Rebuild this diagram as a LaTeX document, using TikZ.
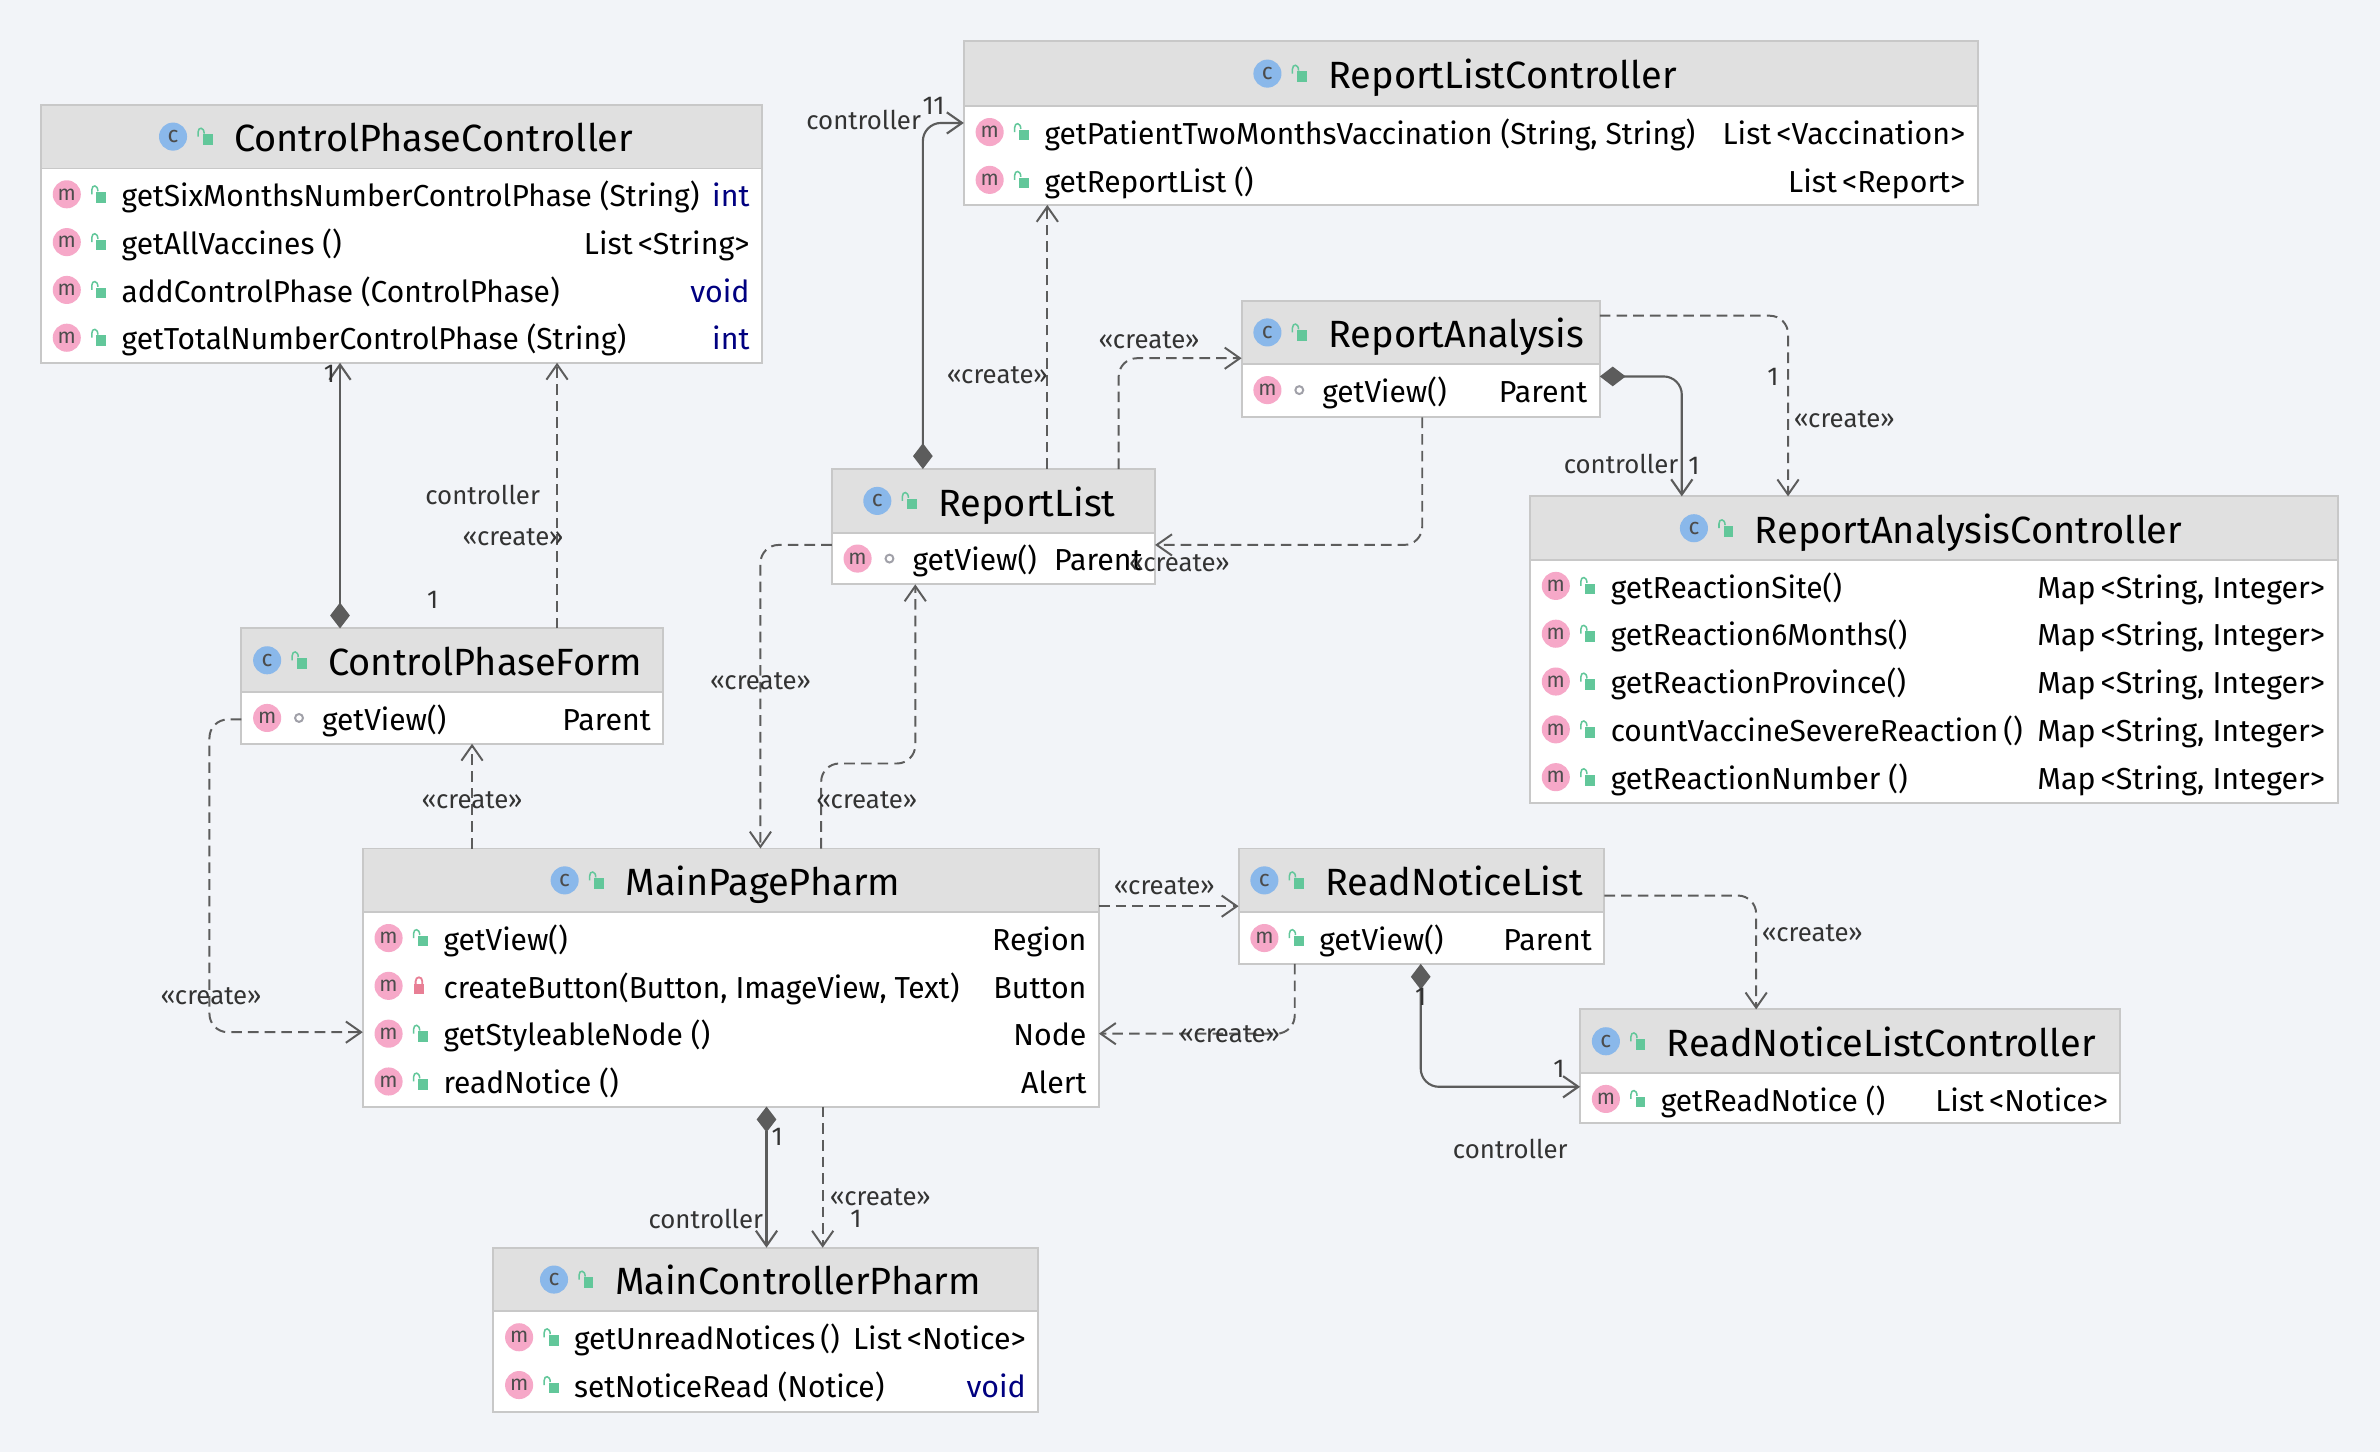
\documentclass[tikz,border=0pt]{standalone}
\usepackage{fontspec}
\setmainfont{Fira Sans}
\newfontfamily\rowfont[FakeStretch=0.985]{Fira Sans}
\usetikzlibrary{arrows.meta, fit}
\definecolor{pagebg}{HTML}{F2F4F8}
\definecolor{headbg}{HTML}{E0E0E0}
\definecolor{boxline}{HTML}{C8C8C8}
\definecolor{linkgray}{HTML}{5C5C5C}
\definecolor{classblue}{HTML}{8AB8EA}
\definecolor{methodpink}{HTML}{F6A8C8}
\definecolor{lockgreen}{HTML}{62C79A}
\definecolor{lockred}{HTML}{E87F95}
\definecolor{dotgray}{HTML}{A0A0A8}
\definecolor{kwblue}{HTML}{000080}
\tikzstyle{classbox} = [rectangle, draw=boxline, line width=1.3pt, fill=white, inner sep=0pt, outer sep=0pt]
\tikzstyle{headbox} = [rectangle, draw=boxline, line width=1.3pt, fill=headbg, inner sep=0pt, outer sep=0pt]
\tikzstyle{classicon} = [circle, fill=classblue, minimum size=18.5pt, inner sep=0pt, text=black!70, font=\fontsize{15}{15}\selectfont]
\tikzstyle{methodicon} = [circle, fill=methodpink, minimum size=18.5pt, inner sep=0pt, text=black!70, font=\fontsize{14}{14}\selectfont]
\tikzstyle{title} = [anchor=west, inner sep=0pt, text height=24pt, text depth=4pt, font=\fontsize{25}{25}\selectfont]
\tikzstyle{rowtext} = [inner sep=0pt, text height=14pt, text depth=4pt, font=\fontsize{20}{20}\selectfont]
\tikzstyle{lbl} = [inner sep=0pt, text=black!80, font=\fontsize{17}{17}\selectfont]
\tikzstyle{dasharrow} = [draw=linkgray, line width=1.3pt, rounded corners=12pt, dash pattern=on 7pt off 4pt, -{Straight Barb[length=10pt,width=14pt]}]
\tikzstyle{solidarrow} = [draw=linkgray, line width=1.4pt, rounded corners=12pt, {Diamond[length=17pt,width=13pt]}-{Straight Barb[length=10pt,width=14pt]}]
\tikzset{
	publock/.pic={
		\fill [lockgreen] (-0.5,-1.5) rectangle (6,5.5);
		\draw [lockgreen, line width=1pt] (-3.5,0) -- (-3.5,-3) .. controls (-3.5,-6.5) and (0.5,-6.5) .. (0.5,-2);
	},
	privlock/.pic={
		\fill [lockred] (-3.5,-1) rectangle (3.5,5.5);
		\draw [lockred, line width=1.2pt] (-2.2,-1) -- (-2.2,-3) .. controls (-2.2,-6.5) and (2.2,-6.5) .. (2.2,-3) -- (2.2,-1);
	},
	pkgdot/.pic={
		\draw [dotgray, line width=1.3pt] (1,0) circle [radius=2.6pt];
	}
}
\newcommand{\classbox}[8]{
	\node (#1) [classbox, fit={(#2,#3)(#4,#5)}] {};
	\node (#1head) [headbox, fit={(#2,#3)(#4,#6)}] {};
	\node (#1icon) [classicon] at (#1head.center -| #7,0) {c};
	\pic at (#1head.center -| #7+20,0) {publock};
	\node (#1title) [title] at (#1head.center -| #7+40,0) {#8};
}
\newcommand{\member}[5]{
	\node (#1m#2) [methodicon, xshift=17pt, yshift={-(17+31.5*(#2-1))*1pt}] at (#1head.south -| #1.west) {m};
	\pic [xshift=37pt, yshift={-(17+31.5*(#2-1))*1pt}] at (#1head.south -| #1.west) {#3};
	\node (#1name#2) [rowtext, anchor=west, xshift=53pt, yshift={-(20+31.5*(#2-1))*1pt}] at (#1head.south -| #1.west) {\rowfont #4};
	\node (#1type#2) [rowtext, anchor=east, xshift=-8pt, yshift={-(20+31.5*(#2-1))*1pt}] at (#1head.south -| #1.east) {#5};
}
\newcommand{\kw}[1]{\textcolor{kwblue}{#1}}
\begin{document}
\begin{tikzpicture}[x=1pt, y=-1pt]
	\useasboundingbox (0,0) rectangle (1568,956.6);
	\fill [pagebg] (0,0) rectangle (1568,956.6);

	\classbox{cpc}{27}{69}{502}{239}{111}{114}{ControlPhaseController}
	\member{cpc}{1}{publock}{getSixMonthsNumberControlPhase (String)}{\kw{int}}
	\member{cpc}{2}{publock}{getAllVaccines ()}{List\,<String>}
	\member{cpc}{3}{publock}{addControlPhase (ControlPhase)}{\kw{void}}
	\member{cpc}{4}{publock}{getTotalNumberControlPhase (String)}{\kw{int}}

	\classbox{rlc}{635}{27}{1303}{135}{70}{835}{ReportListController}
	\member{rlc}{1}{publock}{getPatientTwoMonthsVaccination (String, String)}{List\,<Vaccination>}
	\member{rlc}{2}{publock}{getReportList ()}{List\,<Report>}

	\classbox{ra}{818}{198}{1054}{275}{240}{835}{ReportAnalysis}
	\member{ra}{1}{pkgdot}{getView()}{Parent}

	\classbox{rl}{548}{309}{761}{385}{351}{578}{ReportList}
	\member{rl}{1}{pkgdot}{getView()}{Parent}

	\classbox{rac}{1008}{327}{1540}{529}{369}{1116}{ReportAnalysisController}
	\member{rac}{1}{publock}{getReactionSite()}{Map\,<String, Integer>}
	\member{rac}{2}{publock}{getReaction6Months()}{Map\,<String, Integer>}
	\member{rac}{3}{publock}{getReactionProvince()}{Map\,<String, Integer>}
	\member{rac}{4}{publock}{countVaccineSevereReaction\,()}{Map\,<String, Integer>}
	\member{rac}{5}{publock}{getReactionNumber ()}{Map\,<String, Integer>}

	\classbox{cpf}{159}{414}{437}{490}{456}{176}{ControlPhaseForm}
	\member{cpf}{1}{pkgdot}{getView()}{Parent}

	\classbox{mpp}{239}{559}{724}{729}{601}{372}{MainPagePharm}
	\member{mpp}{1}{publock}{getView()}{Region}
	\member{mpp}{2}{privlock}{createButton(Button, ImageView, Text)}{Button}
	\member{mpp}{3}{publock}{getStyleableNode ()}{Node}
	\member{mpp}{4}{publock}{readNotice ()}{Alert}

	\classbox{rnl}{816}{559}{1057}{635}{601}{833}{ReadNoticeList}
	\member{rnl}{1}{publock}{getView()}{Parent}

	\classbox{rnlc}{1041}{665}{1397}{740}{707}{1058}{ReadNoticeListController}
	\member{rnlc}{1}{publock}{getReadNotice ()}{List\,<Notice>}

	\classbox{mcp}{325}{822}{684}{930}{864}{365}{MainControllerPharm}
	\member{mcp}{1}{publock}{getUnreadNotices\,()}{List\,<Notice>}
	\member{mcp}{2}{publock}{setNoticeRead (Notice)}{\kw{void}}

	\draw [solidarrow] (cpf.north -| 224,0) -- (cpc.south -| 224,0);
	\draw [dasharrow] (cpf.north -| 367,0) -- (cpc.south -| 367,0);
	\draw [solidarrow] (rl.north -| 608,0) |- (rlc.west |- 0,81);
	\draw [dasharrow] (rl.north -| 690,0) -- (rlc.south -| 690,0);
	\draw [dasharrow] (rl.north -| 737,0) |- (ra.west |- 0,236);
	\draw [dasharrow] (ra.south -| 937,0) |- (rl.east |- 0,359);
	\draw [dasharrow] (ra.east |- 0,208) -| (rac.north -| 1178,0);
	\draw [solidarrow] (ra.east |- 0,248) -| (rac.north -| 1108,0);
	\draw [dasharrow] (rl.west |- 0,359) -| (mpp.north -| 501,0);
	\draw [dasharrow] (mpp.north -| 541,0) |- (603,503) -- (rl.south -| 603,0);
	\draw [dasharrow] (mpp.north -| 311,0) -- (cpf.south -| 311,0);
	\draw [dasharrow] (cpf.west |- 0,474) -- (138,474) -- (138,680) -- (mpp.west |- 0,680);
	\draw [dasharrow] (mpp.east |- 0,597) -- (rnl.west |- 0,597);
	\draw [dasharrow] (rnl.south -| 853,0) |- (mpp.east |- 0,681);
	\draw [dasharrow] (rnl.east |- 0,590) -| (rnlc.north -| 1157,0);
	\draw [solidarrow] (rnl.south -| 936,0) |- (rnlc.west |- 0,716);
	\draw [solidarrow] (mpp.south -| 505,0) -- (mcp.north -| 505,0);
	\draw [dasharrow] (mpp.south -| 542,0) -- (mcp.north -| 542,0);

	\node (oneA) [lbl] at (217,246) {1};
	\node (oneB) [lbl] at (285,395) {1};
	\node (ctrlA) [lbl] at (318,326) {controller};
	\node (createA) [lbl] at (338,354) {«create»};
	\node (ctrlB) [lbl] at (569,79) {controller};
	\node (oneC) [lbl] at (615,70) {11};
	\node (createB) [lbl] at (657,247) {«create»};
	\node (createC) [lbl] at (757,224) {«create»};
	\node (createD) [lbl] at (777,371) {«create»};
	\node (oneD) [lbl] at (1168,248) {1};
	\node (createE) [lbl] at (1215,276) {«create»};
	\node (ctrlC) [lbl] at (1068,306) {controller};
	\node (oneE) [lbl] at (1116,307) {1};
	\node (createF) [lbl] at (501,449) {«create»};
	\node (createG) [lbl] at (571,527) {«create»};
	\node (createH) [lbl] at (311,527) {«create»};
	\node (createI) [lbl] at (139,656) {«create»};
	\node (createJ) [lbl] at (767,584) {«create»};
	\node (createK) [lbl] at (810,681) {«create»};
	\node (createL) [lbl] at (1194,615) {«create»};
	\node (oneF) [lbl] at (936,657) {1};
	\node (oneG) [lbl] at (1027,704) {1};
	\node (ctrlD) [lbl] at (995,757) {controller};
	\node (oneH) [lbl] at (512,749) {1};
	\node (ctrlE) [lbl] at (465,803) {controller};
	\node (createM) [lbl] at (580,789) {«create»};
	\node (oneI) [lbl] at (564,803) {1};
\end{tikzpicture}
\end{document}
